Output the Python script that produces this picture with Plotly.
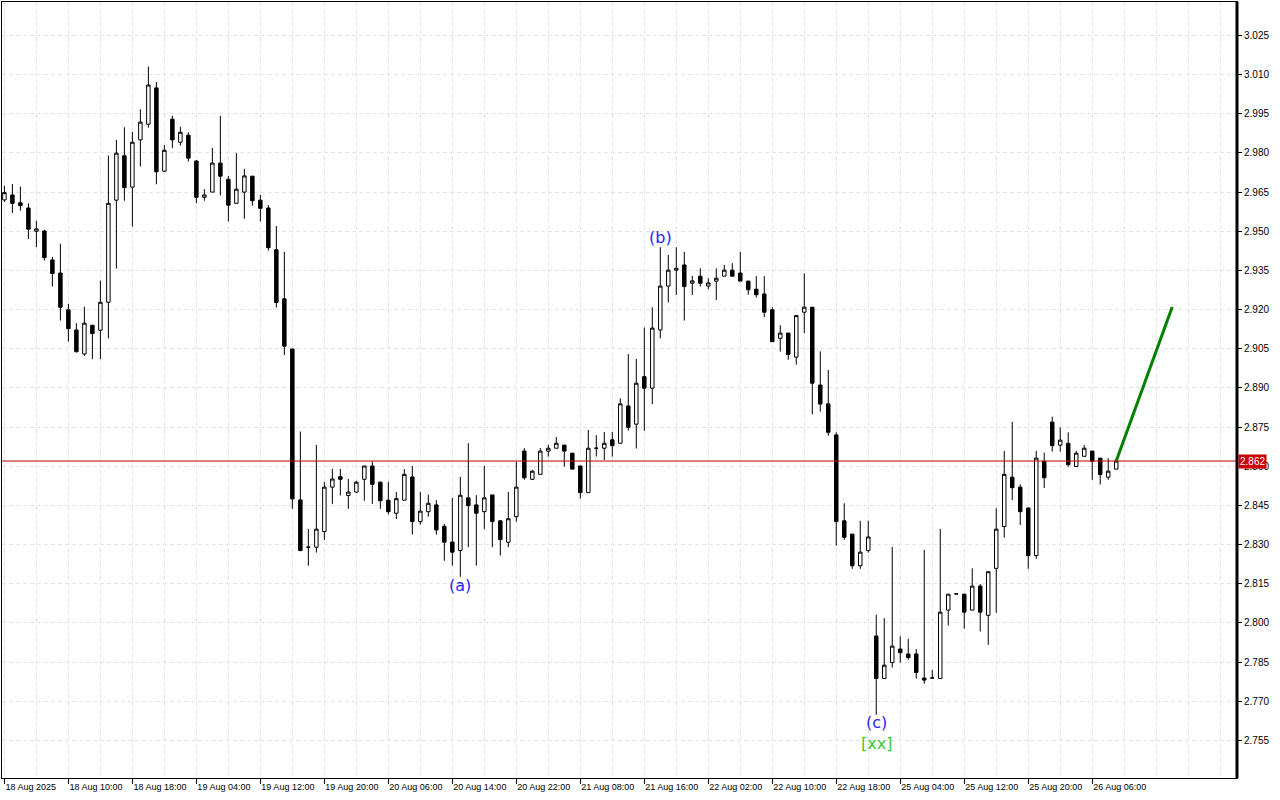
import plotly.graph_objects as go

# ---- data (hourly bars, index 0..139) ----
opens = [2.9620,2.9639,2.9609,2.9589,2.9500,2.9501,2.9390,2.9340,2.9199,2.9122,
         2.9030,2.9140,2.9121,2.9228,2.9619,2.9789,2.9669,2.9850,2.9910,3.0049,
         2.9730,2.9929,2.9841,2.9868,2.9769,2.9630,2.9650,2.9761,2.9699,2.9607,
         2.9650,2.9711,2.9619,2.9589,2.9429,2.9241,2.9049,2.8471,2.8290,2.8290,
         2.8350,2.8520,2.8560,2.8488,2.8501,2.8550,2.8601,2.8539,2.8470,2.8420,
         2.8470,2.8559,2.8388,2.8426,2.8452,2.8370,2.8310,2.8277,2.8479,2.8452,
         2.8426,2.8490,2.8391,2.8309,2.8407,2.8658,2.8550,2.8569,2.8658,2.8669,
         2.8681,2.8650,2.8601,2.8499,2.8669,2.8669,2.8701,2.8688,2.8831,2.8761,
         2.8943,2.8899,2.9122,2.9290,2.9351,2.9371,2.9301,2.9328,2.9290,2.9309,
         2.9328,2.9351,2.9340,2.9309,2.9278,2.9260,2.9199,2.9090,2.9110,2.9018,
         2.9190,2.9209,2.8911,2.8839,2.8720,2.8391,2.8340,2.8219,2.8277,2.7950,
         2.7787,2.7848,2.7900,2.7881,2.7881,2.7789,2.7789,2.7787,2.8049,2.8111,
         2.8110,2.8049,2.8141,2.8029,2.8209,2.8369,2.8558,2.8520,2.8440,2.8258,
         2.8619,2.8769,2.8681,2.8688,2.8599,2.8638,2.8658,2.8631,2.8558,2.8589]
highs = [2.9674,2.9681,2.9671,2.9607,2.9540,2.9505,2.9402,2.9452,2.9222,2.9148,
         2.9211,2.9141,2.9311,2.9790,2.9850,2.9898,2.9880,2.9967,3.0131,3.0072,
         2.9830,2.9942,2.9900,2.9879,2.9772,2.9661,2.9819,2.9942,2.9712,2.9799,
         2.9739,2.9712,2.9639,2.9600,2.9520,2.9421,2.9050,2.8733,2.8360,2.8682,
         2.8540,2.8590,2.8590,2.8551,2.8544,2.8601,2.8618,2.8541,2.8540,2.8501,
         2.8589,2.8601,2.8502,2.8491,2.8470,2.8379,2.8479,2.8559,2.8688,2.8489,
         2.8601,2.8491,2.8392,2.8502,2.8618,2.8669,2.8586,2.8670,2.8682,2.8712,
         2.8682,2.8651,2.8602,2.8739,2.8719,2.8731,2.8731,2.8860,2.9030,2.9011,
         2.9131,2.9209,2.9439,2.9409,2.9439,2.9421,2.9329,2.9358,2.9320,2.9358,
         2.9371,2.9378,2.9421,2.9310,2.9328,2.9328,2.9209,2.9140,2.9111,2.9177,
         2.9339,2.9210,2.9040,2.8969,2.8730,2.8458,2.8341,2.8391,2.8391,2.8031,
         2.8018,2.8291,2.7949,2.7939,2.7900,2.8280,2.7820,2.8360,2.8110,2.8111,
         2.8111,2.8209,2.8149,2.8196,2.8439,2.8659,2.8770,2.8531,2.8441,2.8659,
         2.8652,2.8790,2.8749,2.8730,2.8659,2.8681,2.8659,2.8632,2.8631,2.8620]
lows = [2.9612,2.9570,2.9579,2.9470,2.9439,2.9388,2.9288,2.9158,2.9077,2.9035,
        2.9023,2.9010,2.9010,2.9090,2.9357,2.9617,2.9518,2.9748,2.9897,2.9680,
        2.9727,2.9818,2.9828,2.9767,2.9607,2.9617,2.9650,2.9637,2.9537,2.9607,
        2.9548,2.9598,2.9537,2.9426,2.9208,2.9026,2.8437,2.8275,2.8219,2.8269,
        2.8318,2.8456,2.8488,2.8437,2.8498,2.8468,2.8456,2.8437,2.8416,2.8398,
        2.8470,2.8338,2.8376,2.8407,2.8338,2.8238,2.8219,2.8177,2.8290,2.8219,
        2.8359,2.8290,2.8258,2.8290,2.8388,2.8548,2.8548,2.8569,2.8637,2.8669,
        2.8599,2.8589,2.8476,2.8499,2.8637,2.8624,2.8637,2.8688,2.8736,2.8668,
        2.8736,2.8838,2.9090,2.9227,2.9256,2.9158,2.9256,2.9288,2.9278,2.9237,
        2.9328,2.9328,2.9309,2.9257,2.9246,2.9171,2.9077,2.9039,2.9008,2.8989,
        2.9110,2.8799,2.8809,2.8717,2.8296,2.8318,2.8207,2.8207,2.8269,2.7648,
        2.7787,2.7829,2.7848,2.7859,2.7787,2.7767,2.7789,2.7787,2.7990,2.8111,
        2.7978,2.8049,2.7967,2.7916,2.8039,2.8327,2.8470,2.8375,2.8207,2.8245,
        2.8517,2.8656,2.8656,2.8599,2.8599,2.8638,2.8548,2.8530,2.8548,2.8589]
closes = [2.9648,2.9607,2.9598,2.9508,2.9509,2.9399,2.9338,2.9209,2.9127,2.9039,
          2.9148,2.9108,2.9228,2.9607,2.9799,2.9667,2.9841,2.9918,3.0060,2.9728,
          2.9810,2.9850,2.9879,2.9780,2.9630,2.9639,2.9761,2.9711,2.9600,2.9661,
          2.9712,2.9617,2.9588,2.9437,2.9227,2.9060,2.8475,2.8277,2.8290,2.8359,
          2.8520,2.8551,2.8550,2.8501,2.8539,2.8601,2.8531,2.8468,2.8426,2.8476,
          2.8569,2.8388,2.8428,2.8458,2.8356,2.8309,2.8271,2.8489,2.8449,2.8420,
          2.8479,2.8388,2.8319,2.8399,2.8520,2.8556,2.8581,2.8658,2.8669,2.8688,
          2.8658,2.8589,2.8499,2.8669,2.8669,2.8688,2.8679,2.8839,2.8749,2.8918,
          2.8899,2.9129,2.9290,2.9351,2.9358,2.9288,2.9310,2.9301,2.9302,2.9320,
          2.9351,2.9328,2.9309,2.9276,2.9257,2.9190,2.9077,2.9110,2.9028,2.9177,
          2.9209,2.8918,2.8838,2.8730,2.8388,2.8328,2.8219,2.8271,2.8329,2.7787,
          2.7838,2.7911,2.7886,2.7867,2.7810,2.7781,2.7789,2.8041,2.8110,2.8111,
          2.8041,2.8141,2.8041,2.8196,2.8359,2.8569,2.8518,2.8426,2.8258,2.8631,
          2.8556,2.8679,2.8700,2.8606,2.8650,2.8669,2.8619,2.8568,2.8581,2.8620]
bar_index = list(range(len(opens)))

tick_index = [0, 8, 16, 24, 32, 40, 48, 56, 64, 72, 80, 88, 96, 104, 112, 120, 128, 136]
tick_labels = ["18 Aug 2025", "18 Aug 10:00", "18 Aug 18:00", "19 Aug 04:00", "19 Aug 12:00",
               "19 Aug 20:00", "20 Aug 06:00", "20 Aug 14:00", "20 Aug 22:00", "21 Aug 08:00",
               "21 Aug 16:00", "22 Aug 02:00", "22 Aug 10:00", "22 Aug 18:00", "25 Aug 04:00",
               "25 Aug 12:00", "25 Aug 20:00", "26 Aug 06:00"]

current_price = 2.862
projection_x = [139, 146]
projection_y = [2.862, 2.921]

wave_labels = ["(a)", "(b)", "(c)", "[xx]"]
wave_x = [57, 82, 109, 109]
wave_y = [2.8142, 2.9475, 2.7619, 2.7540]
wave_colors = ["#2424ff", "#2424ff", "#2424ff", "#33cc33"]

FONT = "Liberation Sans"
GRID = "#e3e3e3"

fig = go.Figure()
fig.add_trace(go.Candlestick(
    x=bar_index, open=opens, high=highs, low=lows, close=closes,
    increasing=dict(fillcolor="#ffffff", line=dict(color="#000000", width=1)),
    decreasing=dict(fillcolor="#000000", line=dict(color="#000000", width=1)),
    whiskerwidth=0, showlegend=False, hoverinfo="skip",
))
fig.add_trace(go.Scatter(
    x=projection_x, y=projection_y, mode="lines",
    line=dict(color="#008000", width=3), showlegend=False, hoverinfo="skip",
))

fig.add_hline(y=current_price, line=dict(color="#c00000", width=1))

for t, xv, yv, c in zip(wave_labels, wave_x, wave_y, wave_colors):
    fig.add_annotation(x=xv, y=yv, text=t, showarrow=False,
                       font=dict(family="DejaVu Sans", size=16, color=c),
                       xanchor="center", yanchor="middle")

fig.add_annotation(xref="paper", x=1, y=current_price, text="%.3f" % current_price,
                   showarrow=False, xanchor="left", yanchor="middle", xshift=1,
                   bgcolor="#cc0000", font=dict(family=FONT, size=10, color="#ffffff"),
                   borderpad=1)

fig.add_shape(type="line", xref="paper", yref="paper", x0=1, x1=1, y0=0, y1=1,
              line=dict(color="#000000", width=3))

fig.update_layout(
    width=1280, height=800,
    margin=dict(l=2, r=43, t=2, b=22, autoexpand=False),
    paper_bgcolor="#ffffff", plot_bgcolor="#ffffff",
    font=dict(family=FONT, size=10, color="#000000"),
    boxgap=0.38,
    xaxis=dict(
        range=[-0.3, 154.1], rangeslider=dict(visible=False),
        tickmode="array", tickvals=tick_index, ticktext=tick_labels,
        ticklabelposition="outside right", tickangle=0, automargin=False,
        ticks="outside", ticklen=5, tickcolor="#000000",
        showgrid=True, gridcolor=GRID, griddash="4px,3px", gridwidth=1,
        minor=dict(tickmode="linear", tick0=0, dtick=4, showgrid=True,
                   gridcolor=GRID, griddash="4px,3px", ticks=""),
        showline=True, linecolor="#000000", linewidth=1, mirror=True,
        zeroline=False, tickfont=dict(family=FONT, size=9),
    ),
    yaxis=dict(
        range=[2.7406, 3.0378], side="right", automargin=False,
        tickmode="linear", tick0=2.755, dtick=0.015, tickformat=".3f",
        ticks="outside", ticklen=4, tickcolor="#000000",
        showgrid=True, gridcolor=GRID, griddash="4px,3px", gridwidth=1,
        showline=True, linecolor="#000000", linewidth=1, mirror=True,
        zeroline=False, tickfont=dict(family=FONT, size=10),
    ),
)

fig.write_html("out.html", config={"displayModeBar": False},
               post_script="document.body.style.margin='0px';")
